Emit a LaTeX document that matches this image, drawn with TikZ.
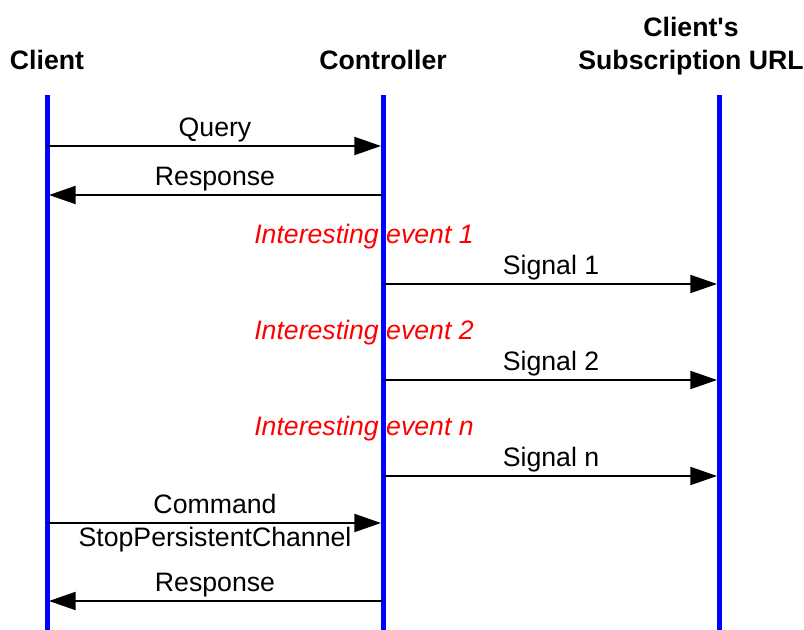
\documentclass[tikz,border=0pt]{standalone}
\usepackage{fontspec}
\setmainfont{Liberation Sans}
\usetikzlibrary{arrows.meta}
\tikzset{
  lifeline/.style={blue, line width=3.75pt},
  msg/.style={line width=1.5pt, shorten >=1.5pt, -{Triangle[length=20pt,width=13.5pt]}},
  head/.style={font=\fontsize{20}{25}\selectfont\bfseries, align=center, inner sep=0pt},
  lbl/.style={font=\fontsize{20}{24}\selectfont, anchor=base, inner sep=0pt, yshift=6.75pt},
  lblbelow/.style={font=\fontsize{20}{24}\selectfont, anchor=base, inner sep=0pt, yshift=-18pt},
  event/.style={font=\fontsize{20}{24}\selectfont\itshape, text=red, anchor=base, inner sep=0pt}
}
\begin{document}
\begin{tikzpicture}[x=0.75pt,y=-0.75pt]
\useasboundingbox (0,0) rectangle (804,630);

\node[head, anchor=base] (client) at (47,70) {Client};
\node[head, anchor=base] (ctrl) at (383,70) {Controller};
\node[head, anchor=south] (url) at (691,75.5) {Client\textquotesingle s\\Subscription URL};

\node[event] (ev1) at (364,244) {Interesting event 1};
\node[event] (ev2) at (364,340) {Interesting event 2};
\node[event] (evn) at (364,436) {Interesting event n};

\coordinate (cltop) at (47,95);
\coordinate (clbot) at (47,630);
\coordinate (cttop) at (383,95);
\coordinate (ctbot) at (383,630);
\coordinate (urtop) at (719,95);
\coordinate (urbot) at (719,630);

\draw[lifeline] (cltop) -- (clbot);
\draw[lifeline] (cttop) -- (ctbot);
\draw[lifeline] (urtop) -- (urbot);

\draw[msg] (cltop |- 0,146) -- (cttop |- 0,146) node[lbl, midway] (q) {Query};
\draw[msg] (cttop |- 0,195) -- (cltop |- 0,195) node[lbl, midway] (r1) {Response};
\draw[msg] (cttop |- 0,284) -- (urtop |- 0,284) node[lbl, midway] (s1) {Signal 1};
\draw[msg] (cttop |- 0,380) -- (urtop |- 0,380) node[lbl, midway] (s2) {Signal 2};
\draw[msg] (cttop |- 0,476) -- (urtop |- 0,476) node[lbl, midway] (sn) {Signal n};
\draw[msg] (cltop |- 0,523) -- (cttop |- 0,523)
  node[lbl, midway] (cmd) {Command}
  node[lblbelow, midway] (stop) {StopPersistentChannel};
\draw[msg] (cttop |- 0,601) -- (cltop |- 0,601) node[lbl, midway] (r2) {Response};
\end{tikzpicture}
\end{document}
